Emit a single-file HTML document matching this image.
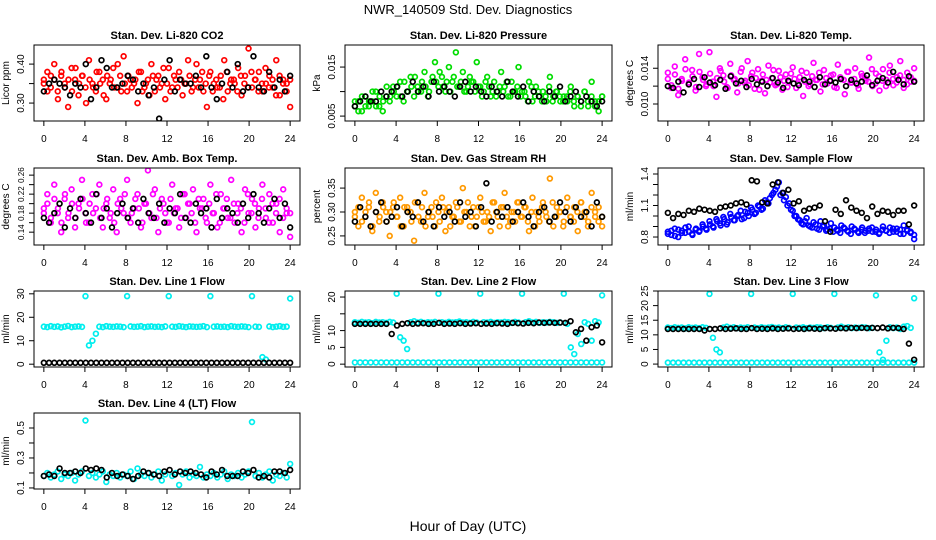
<!DOCTYPE html>
<html><head><meta charset="utf-8"><style>
body{margin:0;background:#fff}
svg{display:block;font-family:"Liberation Sans",sans-serif}
</style></head><body>
<svg id="chart" width="936" height="540" viewBox="0 0 936 540">
<rect width="936" height="540" fill="#fff"/>
<text x="468" y="14" text-anchor="middle" font-size="13">NWR_140509  Std. Dev. Diagnostics</text>
<text x="468" y="531" text-anchor="middle" font-size="14">Hour of Day (UTC)</text>
</svg>
<script>
const xTicks=[0,4,8,12,16,20,24];
const co2Red=[0.36,0.38,0.34,0.40,0.33,0.37,0.35,0.29,0.39,0.36,0.32,0.37,0.34,0.41,0.35,0.33,0.38,0.36,0.31,0.35,0.39,0.34,0.37,0.42,0.33,0.36,0.35,0.30,0.38,0.34,0.36,0.40,0.33,0.37,0.35,0.31,0.39,0.34,0.36,0.38,0.32,0.35,0.37,0.34,0.40,0.36,0.33,0.29,0.38,0.35,0.34,0.37,0.41,0.33,0.36,0.35,0.39,0.32,0.37,0.44,0.34,0.36,0.38,0.33,0.35,0.37,0.34,0.41,0.32,0.36,0.35,0.29];
const co2Red2=[0.35,0.33,0.37,0.36,0.31,0.38,0.34,0.36,0.33,0.39,0.35,0.37,0.30,0.36,0.34,0.38,0.35,0.32,0.37,0.36,0.34,0.40,0.33,0.35,0.37,0.34,0.36,0.38,0.33,0.35,0.32,0.37,0.36,0.34,0.39,0.35,0.33,0.37,0.34,0.36,0.35,0.41,0.33,0.36,0.34,0.38,0.35,0.37,0.33,0.36,0.34,0.31,0.38,0.35,0.36,0.33,0.37,0.35,0.34,0.38,0.36,0.33,0.35,0.39,0.34,0.36,0.32,0.37,0.35,0.33,0.36];
const co2Black=[0.33,0.35,0.36,0.35,0.34,0.32,0.35,0.34,0.40,0.31,0.34,0.41,0.39,0.34,0.34,0.35,0.37,0.36,0.33,0.35,0.32,0.34,0.26,0.36,0.41,0.33,0.36,0.35,0.35,0.37,0.34,0.42,0.34,0.31,0.35,0.38,0.34,0.40,0.33,0.34,0.42,0.34,0.33,0.38,0.34,0.36,0.33,0.37];
const presGreen=[0.007,0.008,0.006,0.009,0.007,0.008,0.010,0.007,0.006,0.009,0.008,0.011,0.009,0.012,0.008,0.010,0.013,0.009,0.011,0.010,0.014,0.009,0.012,0.016,0.011,0.013,0.010,0.015,0.012,0.018,0.011,0.014,0.010,0.013,0.012,0.016,0.011,0.010,0.013,0.009,0.012,0.010,0.014,0.011,0.009,0.012,0.010,0.015,0.010,0.009,0.012,0.008,0.011,0.009,0.010,0.008,0.013,0.009,0.010,0.008,0.009,0.008,0.011,0.007,0.009,0.008,0.010,0.007,0.012,0.008,0.006,0.009];
const presGreen2=[0.008,0.006,0.009,0.007,0.008,0.010,0.007,0.009,0.008,0.011,0.009,0.010,0.011,0.009,0.012,0.010,0.011,0.013,0.010,0.012,0.011,0.010,0.013,0.012,0.014,0.011,0.012,0.010,0.013,0.011,0.012,0.010,0.011,0.012,0.010,0.011,0.009,0.012,0.011,0.010,0.009,0.011,0.010,0.012,0.009,0.010,0.011,0.009,0.010,0.008,0.011,0.009,0.010,0.008,0.009,0.011,0.008,0.010,0.009,0.008,0.009,0.010,0.008,0.009,0.007,0.010,0.008,0.009,0.007,0.008,0.009];
const presBlack=[0.007,0.008,0.009,0.008,0.008,0.010,0.009,0.010,0.011,0.009,0.010,0.012,0.010,0.011,0.009,0.012,0.010,0.011,0.010,0.009,0.011,0.012,0.010,0.011,0.010,0.009,0.011,0.010,0.009,0.012,0.010,0.009,0.011,0.008,0.010,0.009,0.008,0.010,0.009,0.011,0.008,0.009,0.010,0.008,0.009,0.008,0.007,0.008];
const tempMag=[0.0135,0.0118,0.0142,0.0110,0.0128,0.0150,0.0122,0.0138,0.0115,0.0156,0.0130,0.0120,0.0158,0.0125,0.0108,0.0140,0.0132,0.0119,0.0145,0.0127,0.0113,0.0136,0.0124,0.0148,0.0131,0.0117,0.0139,0.0126,0.0112,0.0143,0.0129,0.0121,0.0137,0.0116,0.0133,0.0125,0.0141,0.0118,0.0130,0.0109,0.0135,0.0122,0.0146,0.0127,0.0114,0.0138,0.0123,0.0132,0.0119,0.0144,0.0128,0.0111,0.0136,0.0124,0.0140,0.0117,0.0131,0.0126,0.0152,0.0120,0.0134,0.0115,0.0139,0.0127,0.0143,0.0121,0.0130,0.0148,0.0118,0.0135,0.0125,0.0140];
const tempMag2=[0.0128,0.0121,0.0133,0.0117,0.0126,0.0139,0.0124,0.0131,0.0119,0.0136,0.0127,0.0122,0.0134,0.0120,0.0129,0.0137,0.0125,0.0118,0.0132,0.0128,0.0123,0.0140,0.0126,0.0121,0.0135,0.0129,0.0116,0.0133,0.0127,0.0124,0.0138,0.0122,0.0130,0.0126,0.0119,0.0134,0.0128,0.0123,0.0137,0.0125,0.0120,0.0131,0.0127,0.0135,0.0122,0.0129,0.0126,0.0133,0.0118,0.0130,0.0127,0.0136,0.0124,0.0128,0.0121,0.0134,0.0129,0.0125,0.0139,0.0123,0.0131,0.0126,0.0120,0.0135,0.0128,0.0124,0.0132,0.0127,0.0122,0.0130,0.0126];
const tempBlack=[0.0120,0.0118,0.0125,0.0113,0.0122,0.0128,0.0119,0.0130,0.0124,0.0121,0.0127,0.0117,0.0131,0.0123,0.0126,0.0119,0.0128,0.0122,0.0125,0.0120,0.0129,0.0124,0.0118,0.0126,0.0123,0.0121,0.0127,0.0125,0.0119,0.0130,0.0122,0.0126,0.0124,0.0128,0.0120,0.0127,0.0123,0.0125,0.0132,0.0121,0.0126,0.0129,0.0124,0.0136,0.0127,0.0122,0.0131,0.0125];
const ambMag=[0.19,0.22,0.16,0.24,0.18,0.14,0.21,0.17,0.23,0.15,0.20,0.25,0.18,0.16,0.22,0.19,0.24,0.15,0.20,0.17,0.23,0.14,0.21,0.18,0.25,0.16,0.19,0.22,0.15,0.20,0.27,0.17,0.23,0.14,0.21,0.18,0.16,0.24,0.19,0.15,0.22,0.17,0.20,0.23,0.14,0.19,0.21,0.16,0.24,0.18,0.15,0.22,0.19,0.17,0.25,0.16,0.20,0.14,0.23,0.18,0.21,0.15,0.19,0.24,0.17,0.22,0.16,0.20,0.14,0.23,0.18,0.13];
const ambMag2=[0.18,0.20,0.17,0.21,0.19,0.16,0.22,0.18,0.20,0.17,0.19,0.21,0.16,0.20,0.18,0.22,0.17,0.19,0.21,0.18,0.16,0.20,0.19,0.22,0.17,0.18,0.21,0.19,0.16,0.20,0.18,0.22,0.17,0.19,0.20,0.16,0.21,0.18,0.19,0.17,0.22,0.20,0.18,0.16,0.21,0.19,0.17,0.20,0.18,0.22,0.16,0.19,0.21,0.17,0.20,0.18,0.19,0.16,0.22,0.18,0.20,0.17,0.21,0.19,0.16,0.20,0.18,0.21,0.17,0.19,0.18];
const ambBlack=[0.17,0.16,0.18,0.20,0.15,0.19,0.17,0.21,0.18,0.16,0.22,0.17,0.19,0.15,0.18,0.20,0.17,0.19,0.16,0.21,0.18,0.17,0.20,0.16,0.19,0.18,0.22,0.17,0.16,0.20,0.18,0.19,0.15,0.21,0.17,0.19,0.18,0.16,0.20,0.17,0.22,0.18,0.16,0.19,0.21,0.17,0.20,0.15];
const rhOrange=[0.30,0.27,0.33,0.29,0.31,0.26,0.34,0.28,0.32,0.30,0.25,0.31,0.29,0.33,0.27,0.31,0.30,0.24,0.32,0.28,0.34,0.29,0.31,0.27,0.30,0.33,0.26,0.31,0.29,0.32,0.28,0.35,0.30,0.27,0.31,0.29,0.33,0.28,0.30,0.26,0.32,0.29,0.31,0.34,0.27,0.30,0.28,0.32,0.29,0.31,0.26,0.33,0.30,0.28,0.32,0.29,0.37,0.27,0.31,0.30,0.28,0.33,0.29,0.31,0.26,0.32,0.30,0.28,0.34,0.29,0.31,0.27];
const rhOrange2=[0.29,0.31,0.28,0.30,0.32,0.27,0.30,0.29,0.31,0.28,0.30,0.32,0.29,0.27,0.31,0.30,0.28,0.32,0.29,0.31,0.27,0.30,0.29,0.32,0.28,0.31,0.30,0.27,0.29,0.31,0.28,0.30,0.32,0.29,0.27,0.31,0.30,0.28,0.29,0.32,0.30,0.27,0.31,0.29,0.28,0.30,0.32,0.29,0.31,0.28,0.30,0.27,0.29,0.31,0.30,0.28,0.32,0.29,0.30,0.27,0.31,0.29,0.28,0.30,0.32,0.29,0.27,0.31,0.30,0.28,0.29];
const rhBlack=[0.28,0.31,0.29,0.27,0.30,0.32,0.28,0.29,0.31,0.27,0.30,0.29,0.32,0.28,0.30,0.27,0.31,0.29,0.30,0.28,0.32,0.29,0.30,0.27,0.31,0.36,0.28,0.30,0.29,0.31,0.28,0.30,0.32,0.29,0.27,0.30,0.31,0.28,0.29,0.32,0.30,0.28,0.31,0.29,0.30,0.27,0.32,0.29];
const flowBlue=[0.85,0.82,0.88,0.80,0.86,0.84,0.90,0.83,0.87,0.85,0.92,0.88,0.95,0.90,0.97,0.93,0.99,0.92,1.02,0.96,1.00,1.05,0.98,1.03,1.08,1.02,1.10,1.06,1.15,1.12,1.20,1.25,1.32,1.22,1.18,1.12,1.05,1.00,0.96,0.92,0.98,0.90,0.94,0.88,0.95,0.91,0.87,0.93,0.89,0.86,0.91,0.88,0.85,0.90,0.87,0.84,0.89,0.86,0.88,0.85,0.87,0.84,0.90,0.86,0.89,0.85,0.88,0.83,0.91,0.87,0.85,0.78];
const flowBlue2=[0.83,0.86,0.81,0.87,0.84,0.89,0.85,0.82,0.88,0.86,0.90,0.87,0.92,0.89,0.95,0.91,0.97,0.94,0.99,0.96,1.01,0.97,1.04,1.00,1.06,1.03,1.09,1.07,1.13,1.17,1.22,1.28,1.20,1.15,1.10,1.06,1.00,0.97,0.93,0.95,0.91,0.89,0.92,0.87,0.90,0.86,0.88,0.85,0.87,0.84,0.89,0.86,0.83,0.88,0.85,0.87,0.84,0.86,0.89,0.85,0.83,0.87,0.86,0.84,0.88,0.85,0.87,0.83,0.86,0.84,0.82];
const flowBlack=[1.03,0.98,1.02,1.01,1.05,1.04,1.07,1.06,1.05,1.04,1.08,1.09,1.10,1.12,1.13,1.11,1.34,1.33,1.13,1.12,1.30,1.32,1.22,1.25,1.12,1.14,1.05,1.07,1.08,1.10,0.95,0.85,1.06,1.02,1.15,1.08,1.05,1.03,0.98,1.09,1.02,1.05,1.04,1.01,1.05,1.05,0.92,1.10];
const line1Cyan=[16,15.8,16.2,15.9,16.1,15.7,16,16.3,15.8,16,16.1,15.9,29,8,10,13,16,15.8,16.2,16,15.9,16.1,16,15.8,29,16.1,15.9,16,16.2,15.8,16,16.1,15.9,16,15.8,16.1,29,16,15.9,16.2,16,15.8,16.1,16,15.9,16,16.2,15.8,29,16,16.1,15.9,16,15.8,16.2,16,15.9,16.1,16,15.8,29,16,15.9,3,2,16.1,15.8,16,16.2,15.9,16,28];
const line1Black=[0.6,0.6,0.6,0.6,0.6,0.6,0.6,0.6,0.6,0.6,0.6,0.6,0.6,0.6,0.6,0.6,0.6,0.6,0.6,0.6,0.6,0.6,0.6,0.6,0.6,0.6,0.6,0.6,0.6,0.6,0.6,0.6,0.6,0.6,0.6,0.6,0.6,0.6,0.6,0.6,0.6,0.6,0.6,0.6,0.6,0.6,0.6,0.6];
const line2Cyan=[12.5,12.3,12.6,12.4,12.5,12.2,12.6,12.4,12.5,12.3,12.6,12.4,21,8,7,4.5,12.5,12.8,12.4,12.6,12.3,12.5,12.4,12.6,21,12.5,12.3,12.6,12.4,12.5,12.7,12.4,12.5,12.3,12.6,12.4,21,12.5,12.4,12.6,12.3,12.5,12.4,12.6,12.5,12.3,12.6,12.4,21,12.5,12.8,12.4,12.6,12.3,12.5,12.4,12.6,12.5,12.3,12.4,21,12,5,3,9,6,12.5,12,7,12.8,12.4,20.5];
const line2Low=[0.5,0.5,0.5,0.5,0.5,0.5,0.5,0.5,0.5,0.5,0.5,0.5,0.5,0.5,0.5,0.5,0.5,0.5,0.5,0.5,0.5,0.5,0.5,0.5,0.5,0.5,0.5,0.5,0.5,0.5,0.5,0.5,0.5,0.5,0.5,0.5,0.5,0.5,0.5,0.5,0.5,0.5,0.5,0.5,0.5,0.5,0.5,0.5];
const line2Black=[12,12,12,12,12,12,12,9,11.5,12,12.2,12,12.1,12.2,12,12,12.3,12,12.1,12,12.2,12,12.1,12.2,12,12.1,12,12.2,12.1,12,12.3,12.2,12.1,12.3,12.2,12.4,12.3,12.4,12.3,12.4,12.3,12.8,9.5,10.5,7,11,11.5,6.5];
const line3Cyan=[12.5,12.3,12.6,12.4,12.5,12.2,12.6,12.4,12.5,12.3,12.6,12.4,24,9,5,4,12.5,12.8,12.4,12.6,12.3,12.5,12.4,12.6,24,12.5,12.3,12.6,12.4,12.5,12.7,12.4,12.5,12.3,12.6,12.4,24,12.5,12.4,12.6,12.3,12.5,12.4,12.6,12.5,12.3,12.6,12.4,24,12.5,12.8,12.4,12.6,12.3,12.5,12.4,12.6,12.5,12.3,12.4,23.5,4,1.5,8,12.6,12.3,12.5,12,12.8,13,12.4,22.5];
const line3Low=[0.5,0.5,0.5,0.5,0.5,0.5,0.5,0.5,0.5,0.5,0.5,0.5,0.5,0.5,0.5,0.5,0.5,0.5,0.5,0.5,0.5,0.5,0.5,0.5,0.5,0.5,0.5,0.5,0.5,0.5,0.5,0.5,0.5,0.5,0.5,0.5,0.5,0.5,0.5,0.5,0.5,0.5,0.5,0.5,0.5,0.5,0.5,0.5];
const line3Black=[12,12,12,12,12,12,12,11.5,12,12,12.2,12,12.1,12.2,12,12,12.3,12,12.1,12,12.2,12,12.1,12.2,12,12.1,12,12.2,12.1,12,12.3,12.2,12.1,12.3,12.2,12.4,12.3,12.4,12.3,12.4,12.3,12.5,12.2,12.4,12.3,12.0,7,1.5];
const line4Cyan=[0.18,0.20,0.17,0.19,0.21,0.16,0.19,0.18,0.20,0.15,0.19,0.21,0.55,0.18,0.20,0.17,0.19,0.21,0.14,0.19,0.18,0.20,0.17,0.19,0.18,0.21,0.16,0.23,0.19,0.18,0.20,0.17,0.19,0.21,0.15,0.19,0.62,0.18,0.20,0.12,0.19,0.21,0.17,0.19,0.18,0.24,0.17,0.19,0.18,0.20,0.17,0.19,0.21,0.16,0.19,0.18,0.20,0.17,0.19,0.21,0.54,0.18,0.20,0.17,0.19,0.21,0.15,0.19,0.18,0.20,0.17,0.26];
const line4Black=[0.18,0.19,0.18,0.23,0.20,0.20,0.21,0.20,0.23,0.22,0.23,0.22,0.17,0.20,0.18,0.19,0.18,0.16,0.18,0.21,0.20,0.19,0.18,0.21,0.22,0.19,0.21,0.20,0.21,0.20,0.19,0.17,0.21,0.19,0.22,0.18,0.18,0.18,0.21,0.20,0.22,0.17,0.18,0.17,0.21,0.21,0.20,0.22];

const panels=[
 {t:"Stan. Dev. Li-820 CO2",yl:"Licor ppm",c:0,r:0,d:[0.254,0.449],ticks:[0.30,0.35,0.40],labs:["0.30","","0.40"],s:[[co2Red,"#ff0000"],[co2Red2,"#ff0000"],[co2Black,"#000"]]},
 {t:"Stan. Dev. Li-820 Pressure",yl:"kPa",c:1,r:0,d:[0.004,0.0195],ticks:[0.005,0.010,0.015],labs:["0.005","","0.015"],s:[[presGreen,"#00dd00"],[presGreen2,"#00dd00"],[presBlack,"#000"]]},
 {t:"Stan. Dev. Li-820 Temp.",yl:"degrees C",c:2,r:0,d:[0.0081,0.0166],ticks:[0.010,0.012,0.014],labs:["0.010","","0.014"],s:[[tempMag,"#ff00ff"],[tempMag2,"#ff00ff"],[tempBlack,"#000"]]},
 {t:"Stan. Dev. Amb. Box Temp.",yl:"degrees C",c:0,r:1,d:[0.113,0.275],ticks:[0.14,0.16,0.18,0.20,0.22,0.24,0.26],labs:["0.14","","0.18","","0.22","","0.26"],s:[[ambMag,"#ff00ff"],[ambMag2,"#ff00ff"],[ambBlack,"#000"]],fs:8},
 {t:"Stan. Dev. Gas Stream RH",yl:"percent",c:1,r:1,d:[0.231,0.392],ticks:[0.25,0.30,0.35],labs:["0.25","0.30","0.35"],s:[[rhOrange,"#ff9900"],[rhOrange2,"#ff9900"],[rhBlack,"#000"]]},
 {t:"Stan. Dev. Sample Flow",yl:"ml/min",c:2,r:1,d:[0.724,1.457],ticks:[0.8,0.9,1.0,1.1,1.2,1.3,1.4],labs:["0.8","","","1.1","","","1.4"],s:[[flowBlue,"#0000ff"],[flowBlue2,"#0000ff"],[flowBlack,"#000"]]},
 {t:"Stan. Dev. Line 1 Flow",yl:"ml/min",c:0,r:2,d:[-1.2,31.2],ticks:[0,10,20,30],labs:["0","10","20","30"],s:[[line1Cyan,"#00eeee"],[line1Black,"#000"]]},
 {t:"Stan. Dev. Line 2 Flow",yl:"ml/min",c:1,r:2,d:[-0.85,21.8],ticks:[0,5,10,15,20],labs:["0","5","10","","20"],s:[[line2Cyan,"#00eeee"],[line2Low,"#00eeee"],[line2Black,"#000"]]},
 {t:"Stan. Dev. Line 3 Flow",yl:"ml/min",c:2,r:2,d:[-1,25],ticks:[0,5,10,15,20,25],labs:["0","5","10","15","20","25"],s:[[line3Cyan,"#00eeee"],[line3Low,"#00eeee"],[line3Black,"#000"]]},
 {t:"Stan. Dev. Line 4 (LT) Flow",yl:"ml/min",c:0,r:3,d:[0.093,0.6],ticks:[0.1,0.2,0.3,0.4,0.5],labs:["0.1","","0.3","","0.5"],s:[[line4Cyan,"#00eeee"],[line4Black,"#000"]]}
];
const colX=[[34,300],[345,612],[658,924]];
const rowY=[[45,121],[168,245],[291,367],[413,489]];
const NS="http://www.w3.org/2000/svg";
const svg=document.getElementById("chart");
function mk(tag,attrs,parent){const e=document.createElementNS(NS,tag);for(const k in attrs)e.setAttribute(k,attrs[k]);parent.appendChild(e);return e;}
panels.forEach((p,pi)=>{
  const [x0,x1]=colX[p.c],[y0,y1]=rowY[p.r];
  const g=mk("g",{},svg);
  
  
  const xs=v=>x0+(v+0.96)/25.92*(x1-x0);
  const ys=v=>y1-(v-p.d[0])/(p.d[1]-p.d[0])*(y1-y0);
  const tt=mk("text",{x:(x0+x1)/2,y:y0-6,"text-anchor":"middle","font-size":"11","font-weight":"bold"},g);
  tt.textContent=p.t;
  
  
  const yt=mk("text",{x:0,y:0,transform:`translate(${x0-25},${(y0+y1)/2}) rotate(-90)`,"text-anchor":"middle","font-size":"10"},g);
  yt.textContent=p.yl;
  
  
  const xa=mk("g",{},g);
  
  
  mk("line",{x1:xs(0),x2:xs(24),y1:y1,y2:y1,stroke:"#000"},xa);
  xTicks.forEach(v=>{mk("line",{x1:xs(v),x2:xs(v),y1:y1,y2:y1+5,stroke:"#000"},xa);
    const l=mk("text",{x:xs(v),y:y1+21,"text-anchor":"middle","font-size":"10"},xa);l.textContent=v;});
  const ya=mk("g",{},g);
  
  
  mk("line",{x1:x0,x2:x0,y1:ys(p.ticks[0]),y2:ys(p.ticks[p.ticks.length-1]),stroke:"#000"},ya);
  p.ticks.forEach((v,i)=>{mk("line",{x1:x0-5,x2:x0,y1:ys(v),y2:ys(v),stroke:"#000"},ya);
    if(p.labs[i]){const l=mk("text",{x:0,y:0,transform:`translate(${x0-10},${ys(v)}) rotate(-90)`,"text-anchor":"middle","font-size":p.fs||10},ya);l.textContent=p.labs[i];}});
  const cl="c"+pi;
  const cp=mk("clipPath",{id:cl},g);mk("rect",{x:x0,y:y0,width:x1-x0,height:y1-y0},cp);
  p.s.forEach((ser)=>{
    const [vals,col]=ser;
    const sg=mk("g",{"clip-path":`url(#${cl})`},g);
    
    
    const n=vals.length;
    vals.forEach((v,i)=>{
      const t=24*i/(n-1);
      const c=mk("circle",{cx:xs(t),cy:ys(v),r:2.4,fill:"none",stroke:col,"stroke-width":1.7},sg);
      
      
    });
  });
  const box=mk("rect",{x:x0,y:y0,width:x1-x0,height:y1-y0,fill:"none",stroke:"#000"},g);
  
  
});
</script>
</body></html>
